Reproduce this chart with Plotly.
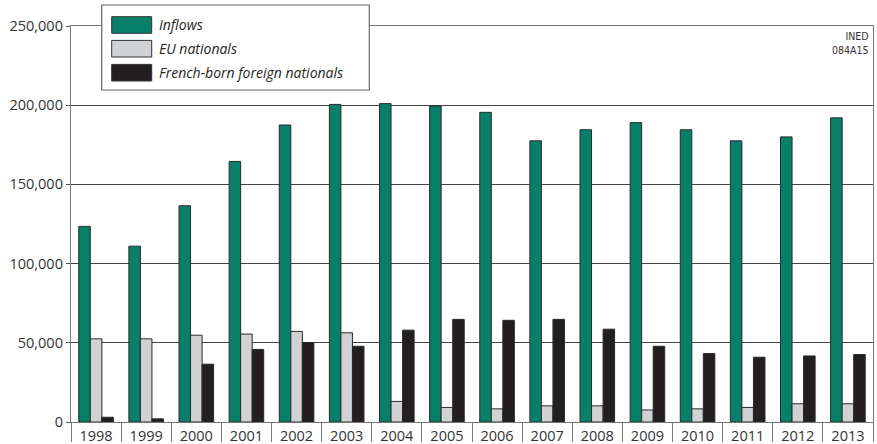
import plotly.graph_objects as go

years = ["1998", "1999", "2000", "2001", "2002", "2003", "2004", "2005",
         "2006", "2007", "2008", "2009", "2010", "2011", "2012", "2013"]
inflows = [123500, 111000, 136500, 164500, 187500, 200500, 201000, 199500,
           195500, 177500, 184500, 189000, 184500, 177500, 180000, 192000]
eu_nationals = [52500, 52500, 54800, 55500, 57200, 56300, 13000, 9200,
                8300, 10200, 10200, 7600, 8300, 9200, 11500, 11500]
french_born = [3000, 2000, 36500, 45800, 50200, 47800, 58000, 64800,
               64200, 64800, 58600, 47800, 43200, 40900, 41700, 42600]
series_names = ["Inflows", "EU nationals", "French-born foreign nationals"]
series_colors = ["#07806a", "#d1d2d4", "#231f20"]
y_ticks = [0, 50000, 100000, 150000, 200000, 250000]

W, H = 877, 444
ML, MR, MT, MB = 71, 4, 26, 22
PL, PR, PT, PB = ML, W - MR, MT, H - MB


def px_x(x):
    return (x - PL) / (PR - PL)


def px_y(y):
    return (PB - y) / (PB - PT)


fig = go.Figure()
for name, vals, col in zip(series_names, [inflows, eu_nationals, french_born], series_colors):
    fig.add_trace(go.Bar(x=years, y=vals, name=name, marker_color=col,
                         marker_line=dict(color="#2a2a2a", width=1), showlegend=False))

fig.update_layout(
    width=W, height=H,
    margin=dict(l=ML, r=MR, t=MT, b=MB, pad=0),
    paper_bgcolor="white", plot_bgcolor="white",
    barmode="group", bargap=0.31, bargroupgap=0,
    font=dict(family="Open Sans", size=14.5, color="#333333"),
)
fig.update_xaxes(
    type="category", automargin=False,
    showline=True, linecolor="#777777", linewidth=1.3, mirror=True,
    ticks="outside", tickson="boundaries", ticklen=19, tickcolor="#777777", tickwidth=1.3,
    ticklabelstandoff=0, showgrid=False,
    tickfont=dict(family="Open Sans", size=14.5, color="#333333"),
)
fig.update_yaxes(
    range=[0, 250000], tickvals=y_ticks, tickformat=",d", automargin=False,
    showline=True, linecolor="#777777", linewidth=1.3, mirror=True,
    ticks="outside", ticklen=4, tickcolor="#555555",
    showgrid=True, gridcolor="#444444", gridwidth=1, zeroline=False,
    tickfont=dict(family="Open Sans", size=14.5, color="#333333"),
)

# Legend box drawn manually (larger swatches than Plotly's built-in legend)
shapes = [dict(type="rect", xref="paper", yref="paper",
               x0=px_x(101.7), x1=px_x(369.3), y0=px_y(90), y1=px_y(5),
               fillcolor="white", line=dict(color="#666666", width=1.2), layer="above")]
row_centers = [25, 48.7, 72.7]
annotations = []
for name, col, yc in zip(series_names, series_colors, row_centers):
    shapes.append(dict(type="rect", xref="paper", yref="paper",
                       x0=px_x(111.7), x1=px_x(151.7), y0=px_y(yc + 8.3), y1=px_y(yc - 8.3),
                       fillcolor=col, line=dict(color="#333333", width=1), layer="above"))
    annotations.append(dict(xref="paper", yref="paper", x=px_x(157), y=px_y(yc),
                            xanchor="left", yanchor="middle", showarrow=False,
                            text="<i>" + name + "</i>",
                            font=dict(family="Open Sans", size=14, color="#231f20")))
annotations.append(dict(xref="paper", yref="paper", x=px_x(871), y=px_y(28),
                        xanchor="right", yanchor="top", showarrow=False, align="right",
                        text="INED<br>084A15",
                        font=dict(family="DejaVu Sans Condensed, Liberation Sans Narrow, sans-serif",
                                  size=10.5, color="#333333")))
fig.update_layout(shapes=shapes, annotations=annotations)

fig.write_html("out.html", config={"displayModeBar": False},
               post_script="document.body.style.margin='0px';document.body.style.overflow='hidden';")
